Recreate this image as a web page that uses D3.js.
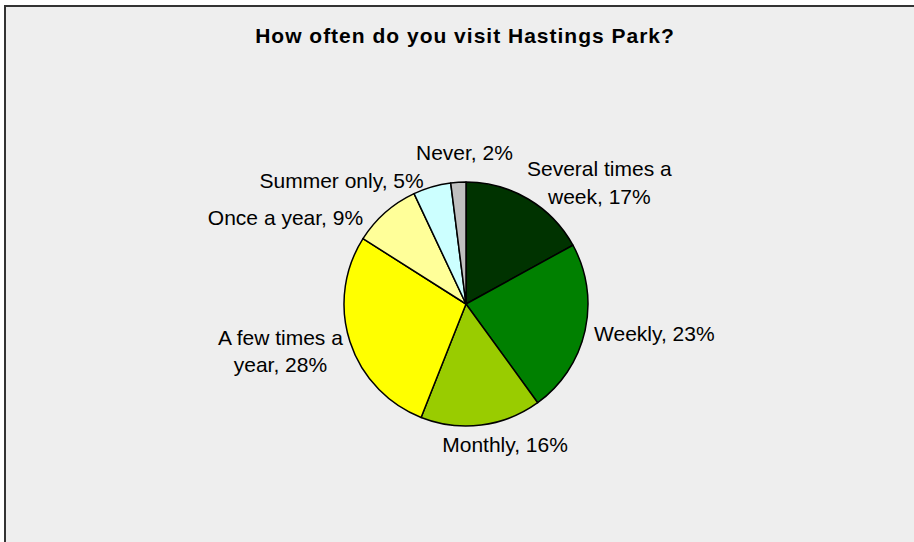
<!DOCTYPE html>
<html>
<head>
<meta charset="utf-8">
<script src="https://cdn.jsdelivr.net/npm/d3@7"></script>
<style>
  html, body { margin: 0; padding: 0; background: #ffffff; }
  svg { display: block; }
</style>
</head>
<body>
<svg id="chart" width="914" height="542"></svg>
<script>
// Survey answers, in the order the slices run clockwise from 12 o'clock
const categories = ["Several times a week", "Weekly", "Monthly", "A few times a year",
                    "Once a year", "Summer only", "Never"];
const shares = [17, 23, 16, 28, 9, 5, 2];
// Label text, split into lines the way they wrap on the chart
const labelLines = [
  ["Several times a", "week, 17%"],
  ["Weekly, 23%"],
  ["Monthly, 16%"],
  ["A few times a", "year, 28%"],
  ["Once a year, 9%"],
  ["Summer only, 5%"],
  ["Never, 2%"]
];
const sliceColors = ["#003300", "#008000", "#99cc00", "#ffff00", "#ffff99", "#ccffff", "#c0c0c0"];
const titleText = "How often do you visit Hastings Park?";

// Layout
const W = 914, H = 542;
const cx = 466, cy = 304, radius = 122;
const fontFamily = "'Liberation Sans', Arial, Helvetica, sans-serif";
const labelSize = 21, lineHeight = 27.5;
const labelRadius = radius + 30;
// Best-fit shifts of each label away from its point on the label ring
const labelNudge = {
  "Several times a week": [56, 3],
  "Weekly": [40, 4],
  "Monthly": [20, -3],
  "A few times a year": [-41, -6],
  "Once a year": [-80, 35],
  "Summer only": [-82, 30],
  "Never": [8, 8]
};

const svg = d3.select("#chart");

// Chart area frame (runs off the right and bottom edges)
svg.append("rect").attr("x", 0).attr("y", 0).attr("width", W).attr("height", H).attr("fill", "#ffffff");
svg.append("rect")
  .attr("x", 5).attr("y", 6).attr("width", W + 20).attr("height", H + 20)
  .attr("fill", "#eeeeee").attr("stroke", "#333333").attr("stroke-width", 2);

svg.append("text")
  .attr("x", 465).attr("y", 43)
  .attr("text-anchor", "middle")
  .attr("font-family", fontFamily).attr("font-weight", "bold")
  .attr("font-size", 21).attr("letter-spacing", 1)
  .attr("fill", "#000000")
  .text(titleText);

const rows = categories.map((c, i) => ({ category: c, value: shares[i], lines: labelLines[i], color: sliceColors[i] }));

const pie = d3.pie().sort(null).value(d => d.value);
const arcs = pie(rows);
const arc = d3.arc().innerRadius(0).outerRadius(radius);
const labelArc = d3.arc().innerRadius(labelRadius).outerRadius(labelRadius);

const g = svg.append("g").attr("transform", `translate(${cx},${cy})`);

g.selectAll("path.slice")
  .data(arcs)
  .join("path")
  .attr("class", "slice")
  .attr("d", arc)
  .attr("fill", d => d.data.color)
  .attr("stroke", "#000000")
  .attr("stroke-width", 1.5)
  .attr("stroke-linejoin", "round");

// Data labels outside the rim
g.selectAll("text.label")
  .data(arcs)
  .join("text")
  .attr("class", "label")
  .attr("text-anchor", "middle")
  .attr("font-family", fontFamily)
  .attr("font-size", labelSize)
  .attr("fill", "#000000")
  .each(function(d) {
    const [px, py] = labelArc.centroid(d);
    const [nx, ny] = labelNudge[d.data.category];
    const t = d3.select(this);
    d.data.lines.forEach((line, k) => {
      t.append("tspan")
        .attr("x", px + nx)
        .attr("y", py + ny + k * lineHeight)
        .text(line);
    });
  });
</script>
</body>
</html>
